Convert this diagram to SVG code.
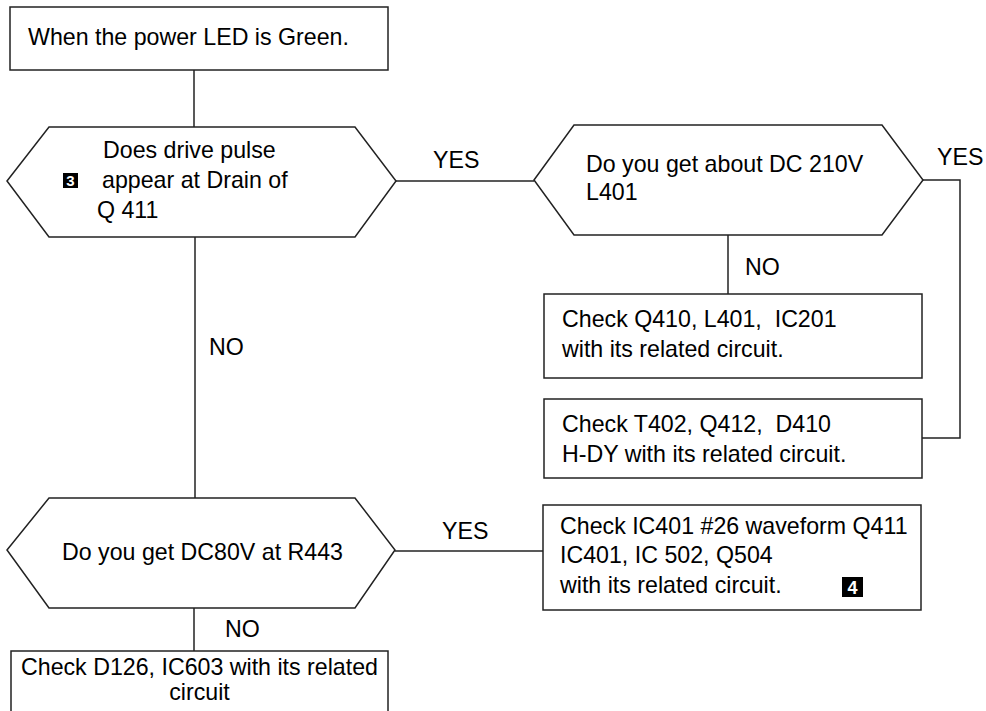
<svg xmlns="http://www.w3.org/2000/svg" width="986" height="711" viewBox="0 0 986 711">
<style>
.s{fill:#fff;stroke:#222;stroke-width:1.5}
.c{fill:none;stroke:#222;stroke-width:1.5}
text{font-family:"Liberation Sans",Arial,sans-serif;font-size:23.2px;fill:#000;white-space:pre}
.b{fill:#000}
.w{fill:#fff;font-weight:bold}
</style>
<rect width="986" height="711" fill="#fff"/>
<g id="connectors">
<path class="c" d="M194,70 V127"/>
<path class="c" d="M195,237 V498"/>
<path class="c" d="M396,181 H534"/>
<path class="c" d="M923,180 H960 V438 H922"/>
<path class="c" d="M728,235 V294"/>
<path class="c" d="M395,551 H543"/>
<path class="c" d="M194,608 V651"/>
<text x="433" y="168">YES</text>
<text x="937" y="165">YES</text>
<text x="745" y="275">NO</text>
<text x="209" y="355">NO</text>
<text x="442" y="539">YES</text>
<text x="225" y="637">NO</text>
</g>
<g id="start">
<rect class="s" x="10" y="7" width="378" height="63"/>
<text x="28" y="45">When the power LED is Green.</text>
</g>
<g id="q1">
<polygon class="s" points="7,181 49,127 355,127 396,181 355,237 49,237"/>
<text x="103" y="158">Does drive pulse</text>
<rect class="b" x="63" y="173" width="15" height="15"/>
<text class="w" x="70.5" y="186" text-anchor="middle" style="font-size:15px">3</text>
<text x="102" y="188">appear at Drain of</text>
<text x="97" y="218">Q 411</text>
</g>
<g id="q2">
<polygon class="s" points="534,180 574,125 882,125 923,180 882,235 574,235"/>
<text x="586" y="172">Do you get about DC 210V</text>
<text x="586" y="200">L401</text>
</g>
<g id="box3">
<rect class="s" x="544" y="294" width="378" height="84"/>
<text x="562" y="327">Check Q410, L401,  IC201</text>
<text x="562" y="357">with its related circuit.</text>
</g>
<g id="box4">
<rect class="s" x="544" y="399" width="378" height="79"/>
<text x="562" y="432">Check T402, Q412,  D410</text>
<text x="562" y="462">H-DY with its related circuit.</text>
</g>
<g id="q3">
<polygon class="s" points="7,550 49,498 355,498 395,550 355,608 49,608"/>
<text x="62" y="560">Do you get DC80V at R443</text>
</g>
<g id="box5">
<rect class="s" x="543" y="505" width="378" height="105"/>
<text x="560" y="534">Check IC401 #26 waveform Q411</text>
<text x="560" y="563">IC401, IC 502, Q504</text>
<text x="560" y="593">with its related circuit.</text>
<rect class="b" x="842" y="577" width="21" height="20"/>
<text class="w" x="852.5" y="594" text-anchor="middle" style="font-size:18px">4</text>
</g>
<g id="box6">
<rect class="s" x="11" y="651" width="377" height="64"/>
<text x="199.5" y="675" text-anchor="middle">Check D126, IC603 with its related</text>
<text x="199.5" y="700" text-anchor="middle">circuit</text>
</g>
</svg>
